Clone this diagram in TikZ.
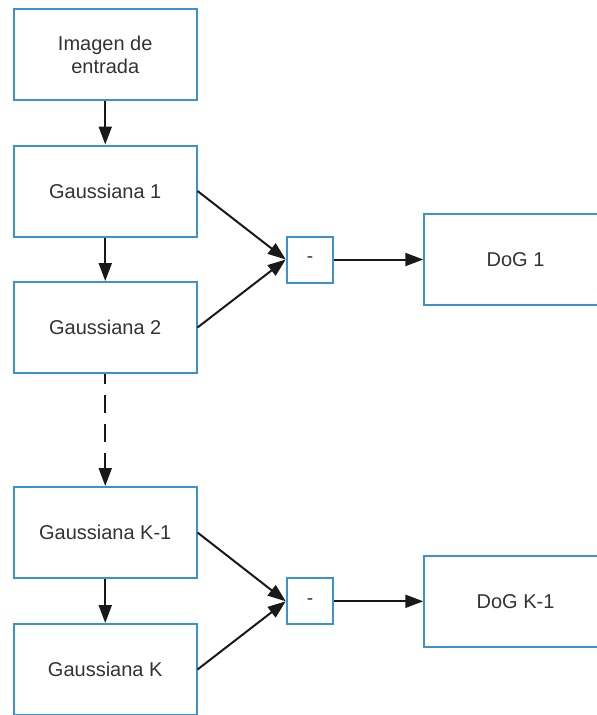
\documentclass[tikz,border=0pt]{standalone}
\usepackage{fontspec}
\setmainfont{Liberation Sans}
\usetikzlibrary{arrows.meta}
\definecolor{boxblue}{HTML}{3B92CF}
\definecolor{txt}{HTML}{333333}
\begin{document}
\begin{tikzpicture}[x=1pt,y=-1pt,
  box/.style={draw=boxblue,line width=2pt,fill=white,minimum width=182.5pt,minimum height=91pt,inner sep=0pt,align=center,text=txt,font=\fontsize{20}{23}\selectfont},
  minus/.style={draw=boxblue,line width=2pt,fill=white,minimum width=46.5pt,minimum height=46pt,inner sep=0pt,text=txt,font=\fontsize{19}{23}\selectfont},
  arr/.style={draw=black!90,line width=2pt,-{Triangle[length=18pt,width=13pt]}}]
\useasboundingbox (0,0) rectangle (597,715);
\node[box] (img) at (105.25,54.75) {Imagen de\\entrada};
\node[box] (g1) at (105.25,191) {Gaussiana 1};
\node[box] (g2) at (105.25,327.5) {Gaussiana 2};
\node[box] (gk1) at (105.25,532.5) {Gaussiana K-1};
\node[box] (gk) at (105.25,669.5) {Gaussiana K};
\node[minus] (m1) at (310,259.5) {-};
\node[minus] (m2) at (310,601.3) {-};
\node[box] (dog1) at (515.5,259.5) {DoG 1};
\node[box] (dogk) at (515.5,601.3) {DoG K-1};
\draw[arr] (img) -- (g1);
\draw[arr] (g1) -- (g2);
\draw[arr,dash pattern=on 18pt off 11pt,dash phase=8pt] (g2) -- (gk1);
\draw[arr] (gk1) -- (gk);
\draw[arr] (g1.east) -- (m1.west);
\draw[arr] (g2.east) -- (m1.west);
\draw[arr] (m1) -- (dog1);
\draw[arr] (gk1.east) -- (m2.west);
\draw[arr] (gk.east) -- (m2.west);
\draw[arr] (m2) -- (dogk);
\end{tikzpicture}
\end{document}
